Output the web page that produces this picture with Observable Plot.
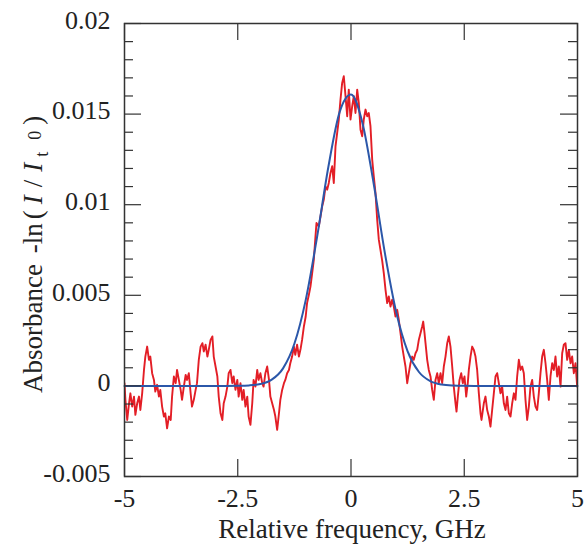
<!DOCTYPE html>
<html><head><meta charset="utf-8">
<script src="https://cdn.jsdelivr.net/npm/d3@7"></script>
<script src="https://cdn.jsdelivr.net/npm/@observablehq/plot@0.6"></script>
<style>
html,body{margin:0;padding:0;background:#fff} svg{display:block}
g[aria-label$="tick label"]{font-size:26px !important}
g[aria-label$="tick label"] text{font-size:26px !important}
</style>
</head><body><div id="chart"></div>
<script>
// Tick values
const xTicks = [-5, -2.5, 0, 2.5, 5];
const yTicks = [-0.005, 0, 0.005, 0.01, 0.015, 0.02];
const yMinor = [-0.004, -0.003, -0.002, -0.001, 0.001, 0.002, 0.003, 0.004, 0.006, 0.007, 0.008, 0.009,
                0.011, 0.012, 0.013, 0.014, 0.016, 0.017, 0.018, 0.019];

// Measured absorbance (red), relative frequency in GHz, absorbance x 1e-3
const redX = [-5.00,-4.98,-4.94,-4.90,-4.87,-4.83,-4.79,-4.76,-4.72,-4.68,-4.65,-4.61,-4.57,-4.54,-4.50,-4.46,-4.43,-4.39,-4.35,-4.32,
-4.28,-4.24,-4.21,-4.17,-4.13,-4.10,-4.06,-4.02,-3.98,-3.95,-3.91,-3.87,-3.84,-3.80,-3.76,-3.73,-3.69,-3.65,-3.62,-3.58,
-3.54,-3.51,-3.47,-3.43,-3.40,-3.36,-3.32,-3.28,-3.25,-3.21,-3.17,-3.14,-3.10,-3.06,-3.03,-2.99,-2.95,-2.92,-2.88,-2.84,
-2.81,-2.77,-2.73,-2.70,-2.66,-2.62,-2.59,-2.55,-2.51,-2.48,
-2.44,-2.40,-2.37,-2.33,-2.29,-2.26,-2.22,-2.18,-2.15,-2.11,-2.07,-2.04,-2.00,-1.96,-1.93,-1.89,-1.85,-1.81,-1.78,-1.74,
-1.70,-1.67,-1.63,-1.59,-1.56,-1.52,-1.48,-1.45,-1.41,-1.37,-1.34,-1.30,-1.26,-1.23,-1.19,-1.15,-1.11,-1.08,-1.04,-1.00,-0.97,-0.93,
-0.894,-0.857,-0.821,-0.784,-0.762,-0.711,-0.673,-0.636,-0.600,-0.563,-0.526,-0.490,-0.453,-0.415,-0.380,-0.342,-0.305,-0.269,-0.232,-0.195,
-0.159,-0.121,-0.084,-0.049,-0.011,0.026,0.062,0.099,0.137,0.172,0.210,0.247,0.282,0.320,0.358,0.393,0.430,0.468,0.503,0.541,0.578,0.614,
0.651,0.689,0.724,0.762,0.799,0.834,0.872,0.909,0.945,0.982,1.020,1.055,1.093,1.130,1.166,1.203,1.241,1.276,1.313,1.351,
1.386,1.424,1.461,1.497,1.534,1.571,1.594,1.623,1.645,1.682,1.717,1.755,1.792,1.828,1.865,1.903,1.938,1.976,2.013,2.049,
2.086,2.124,2.159,2.196,2.234,2.269,2.307,2.329,2.358,2.395,2.433,2.468,2.506,2.543,2.578,
2.601,2.638,2.675,2.711,2.748,2.785,2.822,2.859,2.881,2.932,2.969,3.006,3.043,3.079,3.116,3.153,3.190,3.227,3.263,3.300,
3.337,3.374,3.411,3.447,3.484,3.521,3.558,3.595,3.631,3.668,3.705,3.742,3.779,3.815,3.852,3.889,3.926,3.962,3.999,4.036,
4.073,4.110,4.146,4.183,4.220,4.257,4.294,4.330,4.367,4.404,4.441,4.478,4.514,4.551,4.588,4.625,4.662,4.698,4.735,4.772,
4.809,4.846,4.882,4.919,4.956,4.993];
const redAbsE3 = [0.15,-0.77,-1.88,-0.96,-0.41,-1.14,-0.59,-1.60,-0.96,-0.59,-1.33,-0.41,0.88,1.62,2.17,1.44,1.62,0.70,0.33,-0.31,
0.06,-0.59,-0.22,-1.14,-1.69,-1.51,-2.34,-1.69,-1.88,-0.59,0.52,0.15,0.88,0.33,-0.22,-0.77,-0.04,0.61,0.33,0.70,
-0.41,-1.14,-0.77,-0.22,0.15,1.44,2.17,2.36,1.90,2.27,1.62,1.99,2.54,2.73,1.62,1.07,0.52,-0.59,-1.51,-1.88,
-0.96,-0.59,-0.04,0.70,0.88,0.15,0.52,-0.22,0.33,-0.59,
0.15,-0.77,-0.22,-1.14,-0.59,-1.69,-2.15,-0.96,0.33,-0.04,0.88,0.33,0.70,0.15,-0.04,0.70,1.07,0.33,-0.59,-0.96,
-1.33,-1.69,-2.43,-1.51,-0.77,-0.22,0.15,0.33,0.70,0.88,1.25,1.62,2.17,1.71,2.27,1.62,2.08,2.54,3.28,3.83,4.57,5.03,
5.49,6.22,6.96,8.25,8.99,8.80,9.35,9.91,10.28,11.01,10.83,11.20,11.75,12.12,11.20,13.22,13.96,14.70,15.80,16.72,
17.09,15.99,14.88,16.35,14.70,15.43,15.99,15.06,16.35,15.62,14.14,13.78,14.70,15.25,14.88,15.06,14.33,12.49,11.57,10.64,9.17,8.07,
7.50,6.90,6.22,5.30,4.57,4.94,4.38,4.75,4.38,3.83,4.20,3.65,2.91,2.17,1.62,1.07,0.15,0.70,1.25,1.62,
1.44,1.80,1.99,2.54,2.91,3.28,3.55,2.91,2.36,1.44,0.88,0.52,-0.22,-0.77,0.33,0.70,0.15,0.70,0.15,1.07,
1.62,2.36,2.73,2.17,1.07,-0.04,-0.96,-1.42,-0.59,0.33,0.70,0.15,0.52,-0.59,0.15,
0.88,1.62,2.17,1.99,1.62,0.88,-0.41,-1.51,-1.88,-0.96,-0.59,-1.33,-1.69,-2.25,-1.33,-0.41,0.52,0.70,0.15,-0.41,
-0.04,-0.96,-1.33,-0.59,-1.51,-1.69,-0.96,-0.41,-0.77,0.52,1.44,0.88,1.07,0.70,-0.77,-1.88,-1.14,-0.04,0.33,-0.59,
-1.14,-1.33,-0.41,0.70,1.62,1.99,1.25,0.33,-0.77,0.52,1.25,0.88,1.62,0.52,1.07,-0.04,1.80,2.27,2.36,1.44,
1.99,1.25,1.62,0.70,1.25,-0.04];

// Fitted profile (blue)
const fitX = [-5,-2.75,-2.5,-2.25,-2,-1.75,-1.5,-1.25,-1,-0.75,-0.5,-0.25,0,0.25,0.5,0.75,1,1.25,1.5,1.75,2,2.25,2.5,2.75,5];
const fitAbsE3 = [0,0,0.006,0.027,0.103,0.343,0.968,2.323,4.735,8.203,12.08,15.12,16.08,14.54,11.17,7.297,4.051,1.911,0.766,0.261,0.076,0.02,0.004,0,0];

const red = redX.map((x, i) => ({x, y: redAbsE3[i] / 1000}));
const fit = fitX.map((x, i) => ({x, y: fitAbsE3[i] / 1000}));

const W = 586, H = 550, mL = 124, mR = 9, mT = 23, mB = 74;
const fw = W - mL - mR, fh = H - mT - mB;
const axisColor = "#333";
const fmt = d => String(d);

const plot = Plot.plot({
  width: W, height: H,
  marginLeft: mL, marginRight: mR, marginTop: mT, marginBottom: mB,
  x: {domain: [-5, 5], label: null},
  y: {domain: [-0.005, 0.02], label: null},
  style: {fontFamily: "'Liberation Serif','Times New Roman',serif", fontSize: "26px", color: "#222", background: "white"},
  marks: [
    Plot.line(red, {x: "x", y: "y", stroke: "#e31e26", strokeWidth: 1.9, clip: true}),
    Plot.line(fit, {x: "x", y: "y", stroke: "#2b57a9", strokeWidth: 2, curve: "monotone-x"}),
    Plot.tickY(yTicks, {y: d => d, insetRight: fw - 17, stroke: axisColor, strokeWidth: 1.2}),
    Plot.tickY(yTicks, {y: d => d, insetLeft: fw - 17, stroke: axisColor, strokeWidth: 1.2}),
    Plot.tickY(yMinor, {y: d => d, insetRight: fw - 9, stroke: axisColor, strokeWidth: 1.2}),
    Plot.tickY(yMinor, {y: d => d, insetLeft: fw - 9, stroke: axisColor, strokeWidth: 1.2}),
    Plot.tickX(xTicks, {x: d => d, insetTop: fh - 17, stroke: axisColor, strokeWidth: 1.2}),
    Plot.tickX(xTicks, {x: d => d, insetBottom: fh - 17, stroke: axisColor, strokeWidth: 1.2}),
    Plot.frame({stroke: axisColor, strokeWidth: 1.5}),
    Plot.axisY(yTicks, {tickSize: 0, tickPadding: 14, tickFormat: fmt, dy: -3, label: null, fontSize: 26, fill: "#222"}),
    Plot.axisX(xTicks, {tickSize: 0, tickPadding: 12, tickFormat: fmt, label: null, fontSize: 26, fill: "#222"})
  ]
});

document.getElementById("chart").appendChild(plot);

const svg = d3.select(plot);
svg.selectAll('g[aria-label$="tick label"]').attr("font-size", 26);

svg.append("text")
  .attr("x", 352).attr("y", 538)
  .attr("text-anchor", "middle")
  .attr("font-size", 27).attr("fill", "#222")
  .text("Relative frequency, GHz");

const yl = svg.append("text")
  .attr("transform", "translate(42,393) rotate(-90)")
  .attr("text-anchor", "start")
  .attr("font-size", 27).attr("fill", "#222");
yl.append("tspan").text("Absorbance ");
yl.append("tspan").attr("dx", 4).text("-ln");
yl.append("tspan").attr("dx", 4).text("(");
yl.append("tspan").attr("font-style", "italic").attr("dx", 6).text("I");
yl.append("tspan").attr("dx", 8).text("/");
yl.append("tspan").attr("font-style", "italic").attr("dx", 8).text("I");
yl.append("tspan").attr("font-size", 18).attr("dx", 6).attr("dy", 6).text("t");
yl.append("tspan").attr("font-size", 18).attr("dx", 12).attr("dy", -7).text("0");
yl.append("tspan").attr("dx", 6).attr("dy", 1).text(")");
</script>
</body></html>
